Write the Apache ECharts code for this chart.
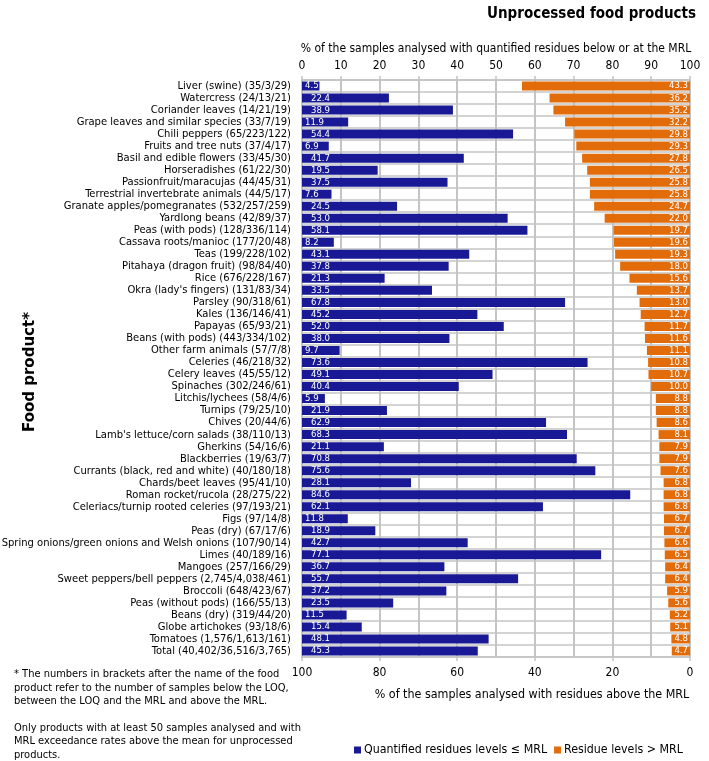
<!DOCTYPE html>
<html><head><meta charset="utf-8">
<script src="https://cdn.jsdelivr.net/npm/echarts@6.0.0/dist/echarts.min.js"></script>
<style>html,body{margin:0;padding:0;background:#fff}#c{width:709px;height:761px}</style>
</head><body><div id="c"></div>
<script>
const categories = [
  "Liver (swine) (35/3/29)",
  "Watercress (24/13/21)",
  "Coriander leaves (14/21/19)",
  "Grape leaves and similar species (33/7/19)",
  "Chili peppers (65/223/122)",
  "Fruits and tree nuts (37/4/17)",
  "Basil and edible flowers (33/45/30)",
  "Horseradishes (61/22/30)",
  "Passionfruit/maracujas (44/45/31)",
  "Terrestrial invertebrate animals (44/5/17)",
  "Granate apples/pomegranates (532/257/259)",
  "Yardlong beans (42/89/37)",
  "Peas (with pods) (128/336/114)",
  "Cassava roots/manioc (177/20/48)",
  "Teas (199/228/102)",
  "Pitahaya (dragon fruit) (98/84/40)",
  "Rice (676/228/167)",
  "Okra (lady's fingers) (131/83/34)",
  "Parsley (90/318/61)",
  "Kales (136/146/41)",
  "Papayas (65/93/21)",
  "Beans (with pods) (443/334/102)",
  "Other farm animals (57/7/8)",
  "Celeries (46/218/32)",
  "Celery leaves (45/55/12)",
  "Spinaches (302/246/61)",
  "Litchis/lychees (58/4/6)",
  "Turnips (79/25/10)",
  "Chives (20/44/6)",
  "Lamb's lettuce/corn salads (38/110/13)",
  "Gherkins (54/16/6)",
  "Blackberries (19/63/7)",
  "Currants (black, red and white) (40/180/18)",
  "Chards/beet leaves (95/41/10)",
  "Roman rocket/rucola (28/275/22)",
  "Celeriacs/turnip rooted celeries (97/193/21)",
  "Figs (97/14/8)",
  "Peas (dry) (67/17/6)",
  "Spring onions/green onions and Welsh onions (107/90/14)",
  "Limes (40/189/16)",
  "Mangoes (257/166/29)",
  "Sweet peppers/bell peppers (2,745/4,038/461)",
  "Broccoli (648/423/67)",
  "Peas (without pods) (166/55/13)",
  "Beans (dry) (319/44/20)",
  "Globe artichokes (93/18/6)",
  "Tomatoes (1,576/1,613/161)",
  "Total (40,402/36,516/3,765)"
];
const quantifiedBelowMRL = [
  4.5, 22.4, 38.9, 11.9, 54.4, 6.9, 41.7, 19.5, 37.5, 7.6,
  24.5, 53.0, 58.1, 8.2, 43.1, 37.8, 21.3, 33.5, 67.8, 45.2,
  52.0, 38.0, 9.7, 73.6, 49.1, 40.4, 5.9, 21.9, 62.9, 68.3,
  21.1, 70.8, 75.6, 28.1, 84.6, 62.1, 11.8, 18.9, 42.7, 77.1,
  36.7, 55.7, 37.2, 23.5, 11.5, 15.4, 48.1, 45.3
];
const aboveMRL = [
  43.3, 36.2, 35.2, 32.2, 29.8, 29.3, 27.8, 26.5, 25.8, 25.8,
  24.7, 22.0, 19.7, 19.6, 19.3, 18.0, 15.6, 13.7, 13.0, 12.7,
  11.7, 11.6, 11.1, 10.8, 10.7, 10.0, 8.8, 8.8, 8.6, 8.1,
  7.9, 7.9, 7.6, 6.8, 6.8, 6.8, 6.7, 6.7, 6.6, 6.5,
  6.4, 6.4, 5.9, 5.6, 5.2, 5.1, 4.8, 4.7
];
const seriesNames = ["Quantified residues levels \u2264 MRL", "Residue levels > MRL"];
const titleText = "Unprocessed food products";
const topAxisName = "% of the samples analysed with quantified residues below or at the MRL";
const bottomAxisName = "% of the samples analysed with residues above the MRL";
const yAxisName = "Food product*";
const note1 = "* The numbers in brackets after the name of the food\nproduct refer to the number of samples below the LOQ,\nbetween the LOQ and the MRL and above the MRL.";
const note2 = "Only products with at least 50 samples analysed and with\nMRL exceedance rates above the mean for unprocessed\nproducts.";

const F = "'DejaVu Sans Condensed', 'DejaVu Sans', sans-serif";
const BLUE = '#191996', ORANGE = '#E36C0A', GRID = '#C4C4C4';

const chart = echarts.init(document.getElementById('c'), null, {renderer: 'canvas'});
chart.setOption({
  animation: false,
  backgroundColor: '#fff',
  textStyle: {fontFamily: F},
  title: [
    {text: titleText, right: 8, top: 2, textStyle: {fontFamily: F, fontWeight: 'bold', fontSize: 15, color: '#000'}},
    {text: note1, left: 9, top: 662, textStyle: {fontFamily: F, fontWeight: 'normal', fontSize: 11, lineHeight: 13.8, color: '#000'}},
    {text: note2, left: 9, top: 716, textStyle: {fontFamily: F, fontWeight: 'normal', fontSize: 11, lineHeight: 13.5, color: '#000'}}
  ],
  graphic: [
    {type: 'text', x: 30, y: 372, rotation: Math.PI / 2,
     style: {text: yAxisName, fill: '#000', font: "bold 15px 'DejaVu Sans', sans-serif",
             textAlign: 'center', textVerticalAlign: 'middle'}}
  ],
  legend: {
    data: seriesNames, left: 349, top: 739, icon: 'rect', itemWidth: 7, itemHeight: 7, itemGap: 7,
    textStyle: {fontFamily: F, fontSize: 12.3, color: '#000', padding: [0,0,0,-2]}
  },
  grid: {left: 302, right: 19, top: 80, bottom: 104, containLabel: false, outerBoundsMode: 'none'},
  xAxis: [
    {type: 'value', position: 'top', min: 0, max: 100, interval: 10,
     name: topAxisName, nameLocation: 'middle', nameGap: 25,
     nameTextStyle: {fontFamily: F, fontSize: 12, color: '#000'},
     axisLine: {show: true, lineStyle: {color: GRID, width: 1.5}},
     axisTick: {show: true, length: 4, lineStyle: {color: GRID, width: 1.5}},
     axisLabel: {fontFamily: F, fontSize: 12, color: '#000', margin: 8},
     splitLine: {show: true, lineStyle: {color: GRID, width: 2}}},
    {type: 'value', position: 'bottom', min: 0, max: 100, interval: 20, inverse: true,
     name: bottomAxisName, nameLocation: 'middle', nameGap: 32,
     nameTextStyle: {fontFamily: F, fontSize: 12.4, color: '#000', padding: [0,0,0,72]},
     axisLine: {show: true, lineStyle: {color: GRID, width: 1.5}},
     axisTick: {show: true, length: 4, lineStyle: {color: GRID, width: 1.5}},
     axisLabel: {fontFamily: F, fontSize: 12, color: '#000', margin: 10},
     splitLine: {show: false}}
  ],
  yAxis: {
    type: 'category', data: categories, inverse: true,
    axisLine: {show: true, lineStyle: {color: GRID, width: 1.5}},
    axisTick: {show: false},
    axisLabel: {interval: 0, fontFamily: F, fontSize: 11.1, color: '#000', margin: 11},
    splitLine: {show: true, interval: 0, lineStyle: {color: GRID, width: 1.5}}
  },
  series: [
    {name: seriesNames[0], type: 'bar', xAxisIndex: 0, barWidth: 9, barGap: '-100%',
     itemStyle: {color: BLUE},
     data: quantifiedBelowMRL.map(v => ({value: v, label: {distance: v < 15 ? 3 : 9}})),
     label: {show: true, position: 'insideLeft', color: '#fff', fontFamily: F, fontSize: 9.5,
             formatter: p => p.value.toFixed(1)}},
    {name: seriesNames[1], type: 'bar', xAxisIndex: 1, barWidth: 9, barGap: '-100%',
     itemStyle: {color: ORANGE},
     data: aboveMRL,
     label: {show: true, position: 'insideRight', distance: 2, color: '#fff', fontFamily: F, fontSize: 9.5,
             formatter: p => p.value.toFixed(1)}}
  ]
});
</script></body></html>
